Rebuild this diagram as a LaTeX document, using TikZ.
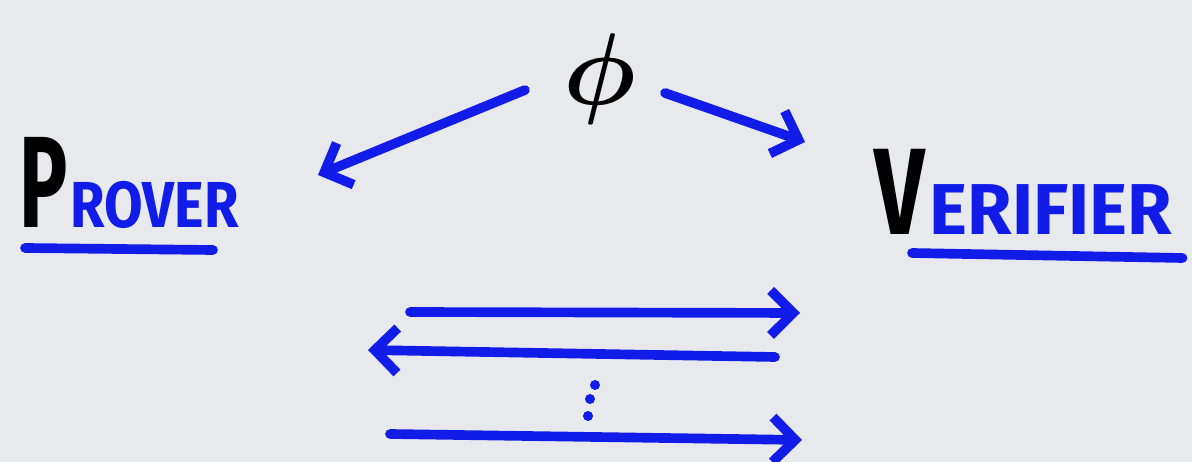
\documentclass[tikz,border=0pt]{standalone}
\usepackage{bm}
\usepackage{fontspec}
\setsansfont{Fira Sans}
\usetikzlibrary{arrows.meta, positioning}
\definecolor{marker}{RGB}{18,28,232}
\definecolor{board}{RGB}{232,233,237}

\begin{document}
\begin{tikzpicture}[->, >={Straight Barb[length=4.5mm, width=9mm]}, line width=5.5pt,
    line cap=round, line join=round, draw=marker,
    word/.style={font=\sffamily\bfseries, text=marker, inner sep=0pt}]
    \fill[board] (0,0) rectangle (23.84,9.24);
    \useasboundingbox (0,0) rectangle (23.84,9.24);

    \node (phi) at (12.0,7.65) {\scalebox{5.8}{$\bm{\phi}$}};

    \node[word, text=black, anchor=base west] (P) at (0.3,4.68) {\scalebox{0.62}[1]{\fontsize{74}{74}\selectfont P}};
    \node[word, right=-4pt of P.base east, anchor=base west] (rover) {\scalebox{0.86}[1]{\fontsize{37}{37}\selectfont ROVER}};
    \node[word, text=black, anchor=base west] (V) at (17.4,4.54) {\scalebox{0.72}[1]{\fontsize{70}{70}\selectfont V}};
    \node[word, right=-3pt of V.base east, anchor=base west] (erifier) {\fontsize{41}{41}\selectfont ERIFIER};

    \draw[-] ([xshift=0.2cm, yshift=-0.4cm]P.base west) -- ([xshift=3.96cm, yshift=-0.44cm]P.base west);
    \draw[-] ([xshift=0.84cm, yshift=-0.36cm]V.base west) -- ([xshift=0.12cm, yshift=-0.46cm]erifier.base east);

    \coordinate (phiL) at (10.5,7.44);
    \coordinate (phiR) at (13.3,7.38);
    \coordinate (toP) at (6.36,5.74);
    \coordinate (toV) at (16.1,6.4);
    \draw (phiL) -- (toP);
    \draw (phiR) -- (toV);

    \coordinate (m1) at (8.2,3.0);
    \coordinate (m2) at (16.0,2.98);
    \coordinate (m3) at (15.5,2.1);
    \coordinate (m4) at (7.36,2.24);
    \coordinate (m5) at (7.8,0.56);
    \coordinate (m6) at (16.04,0.44);
    \draw (m1) -- (m2);
    \draw (m3) -- (m4);
    \draw (m5) -- (m6);

    \foreach \x/\y in {11.9/1.54, 11.8/1.26, 11.76/0.92}
        \fill[marker] (\x,\y) circle (0.1);
\end{tikzpicture}
\end{document}
